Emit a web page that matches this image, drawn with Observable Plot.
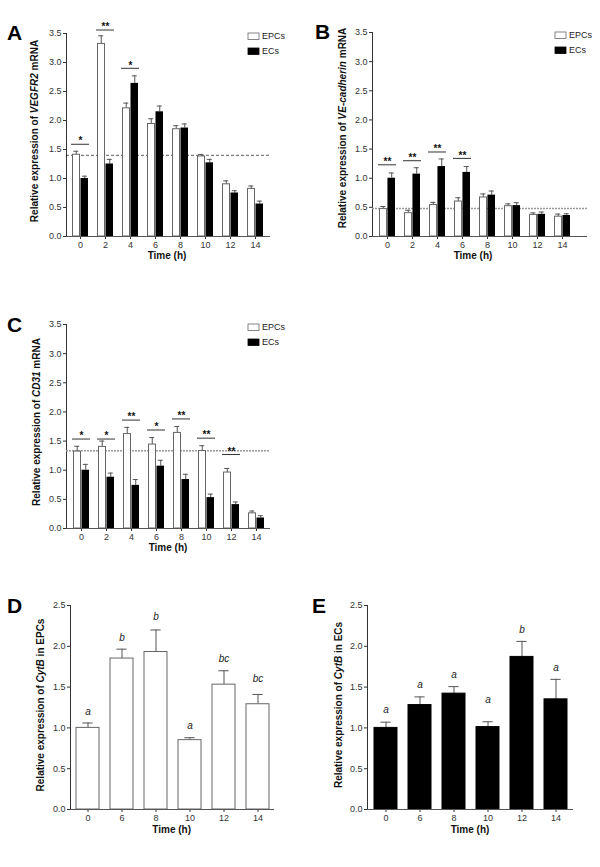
<!DOCTYPE html>
<html><head><meta charset="utf-8">
<script src="https://cdn.jsdelivr.net/npm/d3@7"></script>
<script src="https://cdn.jsdelivr.net/npm/@observablehq/plot@0.6"></script>
<style>
body{margin:0;background:#fff;}
#fig{position:relative;width:600px;height:867px;background:#fff;font-family:"Liberation Sans",Arial,sans-serif;}
#fig svg{position:absolute;background:none;}
</style></head><body><div id="fig"></div>
<script>
// ---------- data ----------
const times = [0, 2, 4, 6, 8, 10, 12, 14];
const series = ["EPCs", "ECs"];

// A: VEGFR2
const vegfrEPC    = [1.41, 3.32, 2.21, 1.94, 1.85, 1.38, 0.90, 0.82];
const vegfrEPCerr = [0.06, 0.14, 0.09, 0.09, 0.06, 0.035, 0.06, 0.05];
const vegfrEC     = [1.00, 1.25, 2.64, 2.15, 1.87, 1.27, 0.75, 0.56];
const vegfrECerr  = [0.04, 0.08, 0.13, 0.10, 0.07, 0.06, 0.04, 0.05];
const vegfrSigT   = [0, 2, 4];
const vegfrSigY   = [1.59, 3.56, 2.90];
const vegfrSigL   = ["*", "**", "*"];
const vegfrRef    = 1.40;

// B: VE-cadherin
const vecadEPC    = [0.47, 0.40, 0.54, 0.60, 0.67, 0.52, 0.37, 0.34];
const vecadEPCerr = [0.045, 0.05, 0.046, 0.065, 0.06, 0.04, 0.035, 0.045];
const vecadEC     = [1.00, 1.07, 1.20, 1.10, 0.71, 0.53, 0.38, 0.36];
const vecadECerr  = [0.09, 0.11, 0.13, 0.10, 0.07, 0.05, 0.04, 0.03];
const vecadSigT   = [0, 2, 4, 6];
const vecadSigY   = [1.23, 1.30, 1.45, 1.34];
const vecadSigL   = ["**", "**", "**", "**"];
const vecadRef    = 0.48;

// C: CD31
const cd31EPC    = [1.32, 1.40, 1.62, 1.44, 1.64, 1.33, 0.96, 0.26];
const cd31EPCerr = [0.09, 0.10, 0.115, 0.12, 0.11, 0.09, 0.07, 0.04];
const cd31EC     = [1.00, 0.88, 0.74, 1.07, 0.84, 0.53, 0.41, 0.18];
const cd31ECerr  = [0.10, 0.07, 0.10, 0.10, 0.09, 0.06, 0.045, 0.04];
const cd31SigT   = [0, 2, 4, 6, 8, 10, 12];
const cd31SigY   = [1.535, 1.535, 1.86, 1.69, 1.88, 1.55, 1.27];
const cd31SigL   = ["*", "*", "**", "*", "**", "**", "**"];
const cd31Ref    = 1.334;

const yTicksABC = [0, 0.5, 1.0, 1.5, 2.0, 2.5, 3.0, 3.5];

// D / E: CytB
const cytTimes   = [0, 6, 8, 10, 12, 14];
const cytEPC     = [1.00, 1.85, 1.93, 0.85, 1.53, 1.29];
const cytEPCerr  = [0.06, 0.115, 0.27, 0.03, 0.17, 0.12];
const cytEPCLet  = ["a", "b", "b", "a", "bc", "bc"];
const cytEPCLetY = [1.20, 2.11, 2.36, 1.02, 1.85, 1.60];
const cytEC      = [1.00, 1.28, 1.42, 1.01, 1.87, 1.35];
const cytECerr   = [0.07, 0.10, 0.086, 0.065, 0.19, 0.245];
const cytECLet   = ["a", "a", "a", "a", "b", "a"];
const cytECLetY  = [1.22, 1.53, 1.65, 1.34, 2.20, 1.74];
const yTicksDE = [0, 0.5, 1.0, 1.5, 2.0, 2.5];

// ---------- helpers ----------
const fig = document.getElementById("fig");
const FONT = '"Liberation Sans", Arial, sans-serif';
const AX = "#555";
const rows = (t, v, e) => t.map((d, i) => ({time: d, value: v[i], err: e[i]}));

function decorate(svg, o) {
  const s = d3.select(svg);
  s.append("text").attr("x", o.letter[1]).attr("y", o.letter[2])
    .attr("text-anchor", "start")
    .attr("font-size", 21).attr("font-weight", "bold").attr("fill", "#000")
    .attr("font-family", FONT).text(o.letter[0]);
  const yt = s.append("text")
    .attr("transform", `translate(${o.ytitle.x},${o.ytitle.y}) rotate(-90)`)
    .attr("text-anchor", "middle").attr("dominant-baseline", "middle")
    .attr("font-size", 10).attr("font-weight", "bold").attr("fill", "#111")
    .attr("font-family", FONT);
  o.ytitle.parts.forEach(p => yt.append("tspan").attr("font-style", p[1] ? "italic" : "normal").text(p[0]));
  s.append("text").attr("x", o.xtitle.x).attr("y", o.xtitle.y)
    .attr("text-anchor", "middle").attr("dominant-baseline", "middle")
    .attr("font-size", 10).attr("font-weight", "bold").attr("fill", "#111")
    .attr("font-family", FONT).text("Time (h)");
  if (o.legend) {
    const [lx, ly] = o.legend;
    series.forEach((name, i) => {
      s.append("rect").attr("x", lx).attr("y", ly + i * 15).attr("width", 11).attr("height", 6.5)
        .attr("fill", i ? "#000" : "#fff").attr("stroke", i ? "#000" : "#666").attr("stroke-width", 0.8);
      s.append("text").attr("x", lx + 14).attr("y", ly + 3.5 + i * 15)
        .attr("text-anchor", "start")
        .attr("dominant-baseline", "middle").attr("font-size", 9).attr("fill", "#222")
        .attr("font-family", FONT).text(name);
    });
  }
}

function grouped(cfg) {
  const epc = rows(times, cfg.epc, cfg.epcErr);
  const ec = rows(times, cfg.ec, cfg.ecErr);
  const sig = cfg.sigT.map((t, i) => ({time: t, y: cfg.sigY[i], label: cfg.sigL[i]}));
  const pInner = 0.346;
  const step = (cfg.xr[1] - cfg.xr[0]) / (times.length - pInner);
  const bw = step * (1 - pInner);
  const cap = 3;
  const svg = Plot.plot({
    width: 300, height: cfg.h,
    marginLeft: cfg.m[0], marginRight: cfg.m[1], marginTop: cfg.m[2], marginBottom: cfg.m[3],
    style: {fontFamily: FONT, fontSize: "9px", color: "#333", background: "transparent"},
    x: {domain: times, range: cfg.xr, paddingInner: pInner, paddingOuter: 0, tickSize: 3, tickPadding: 2, label: null},
    y: {domain: [0, 3.5], ticks: yTicksABC, tickFormat: ".1f", tickSize: 3, tickPadding: 2, label: null, line: true},
    marks: [
      Plot.ruleY([cfg.ref], {stroke: cfg.refColor, strokeWidth: cfg.refW, strokeDasharray: cfg.refDash}),
      Plot.ruleX(epc, {x: "time", y1: "value", y2: d => d.value + d.err, dx: -bw / 4, stroke: AX}),
      Plot.tickY(epc, {x: "time", y: d => d.value + d.err, insetLeft: bw / 4 - cap, insetRight: bw * 3 / 4 - cap, stroke: AX}),
      Plot.ruleX(ec, {x: "time", y1: "value", y2: d => d.value + d.err, dx: bw / 4, stroke: AX}),
      Plot.tickY(ec, {x: "time", y: d => d.value + d.err, insetLeft: bw * 3 / 4 - cap, insetRight: bw / 4 - cap, stroke: AX}),
      Plot.barY(epc, {x: "time", y: "value", fill: "#fff", stroke: "#666", strokeWidth: 1, insetRight: bw / 2, insetLeft: 0.5}),
      Plot.barY(ec, {x: "time", y: "value", fill: "#000", insetLeft: bw / 2}),
      Plot.tickY(sig, {x: "time", y: "y", stroke: "#333", insetLeft: -1, insetRight: -1}),
      Plot.text(sig, {x: "time", y: "y", text: "label", dy: -3, fontSize: 10, fontWeight: "bold", fill: "#111"}),
      Plot.ruleY([0], {stroke: AX})
    ]
  });
  svg.style.left = cfg.pos[0] + "px";
  svg.style.top = cfg.pos[1] + "px";
  fig.appendChild(svg);
  decorate(svg, cfg);
}

function single(cfg) {
  const data = rows(cytTimes, cfg.v, cfg.e);
  const lets = cytTimes.map((t, i) => ({time: t, y: cfg.letY[i], label: cfg.lets[i]}));
  const pInner = 0.338;
  const step = (cfg.xr[1] - cfg.xr[0]) / (cytTimes.length - pInner);
  const bw = step * (1 - pInner);
  const cap = 5;
  const svg = Plot.plot({
    width: 300, height: cfg.h,
    marginLeft: cfg.m[0], marginRight: cfg.m[1], marginTop: cfg.m[2], marginBottom: cfg.m[3],
    style: {fontFamily: FONT, fontSize: "9px", color: "#333", background: "transparent"},
    x: {domain: cytTimes, range: cfg.xr, paddingInner: pInner, paddingOuter: 0, tickSize: 3, tickPadding: 2, label: null},
    y: {domain: [0, 2.5], ticks: yTicksDE, tickFormat: ".1f", tickSize: 3, tickPadding: 2, label: null, line: true},
    marks: [
      Plot.ruleX(data, {x: "time", y1: "value", y2: d => d.value + d.err, stroke: AX}),
      Plot.tickY(data, {x: "time", y: d => d.value + d.err, insetLeft: bw / 2 - cap, insetRight: bw / 2 - cap, stroke: AX}),
      Plot.barY(data, {x: "time", y: "value", fill: cfg.fill, stroke: cfg.stroke, strokeWidth: 1}),
      Plot.text(lets, {x: "time", y: "y", text: "label", fontSize: 10, fontStyle: "italic", fill: "#222"}),
      Plot.ruleY([0], {stroke: AX})
    ]
  });
  svg.style.left = cfg.pos[0] + "px";
  svg.style.top = cfg.pos[1] + "px";
  fig.appendChild(svg);
  decorate(svg, cfg);
}

// ---------- panels ----------
grouped({
  pos: [0, 0], h: 280, m: [66, 30, 33, 44], xr: [68.5, 267.5],
  epc: vegfrEPC, epcErr: vegfrEPCerr, ec: vegfrEC, ecErr: vegfrECerr,
  sigT: vegfrSigT, sigY: vegfrSigY, sigL: vegfrSigL,
  ref: vegfrRef, refColor: "#333", refW: 0.8, refDash: "3,2",
  letter: ["A", 7, 40],
  ytitle: {x: 35, y: 131, parts: [["Relative expression of ", 0], ["VEGFR2", 1], [" mRNA", 0]]},
  xtitle: {x: 167, y: 256}, legend: [248, 33]
});
grouped({
  pos: [300, 0], h: 280, m: [72, 13, 32, 44], xr: [75.8, 273.5],
  epc: vecadEPC, epcErr: vecadEPCerr, ec: vecadEC, ecErr: vecadECerr,
  sigT: vecadSigT, sigY: vecadSigY, sigL: vecadSigL,
  ref: vecadRef, refColor: "#999", refW: 1.5, refDash: "2,1",
  letter: ["B", 15, 39],
  ytitle: {x: 42.5, y: 128, parts: [["Relative expression of ", 0], ["VE-cadherin", 1], [" mRNA", 0]]},
  xtitle: {x: 173, y: 256.7}, legend: [255, 32]
});
grouped({
  pos: [0, 300], h: 280, m: [66, 30, 24, 52], xr: [68.8, 267.8],
  epc: cd31EPC, epcErr: cd31EPCerr, ec: cd31EC, ecErr: cd31ECerr,
  sigT: cd31SigT, sigY: cd31SigY, sigL: cd31SigL,
  ref: cd31Ref, refColor: "#999", refW: 1.5, refDash: "2,1",
  letter: ["C", 7, 32],
  ytitle: {x: 37, y: 122, parts: [["Relative expression of ", 0], ["CD31", 1], [" mRNA", 0]]},
  xtitle: {x: 168, y: 248}, legend: [248, 24]
});
single({
  pos: [0, 580], h: 287, m: [70, 26, 25, 58], xr: [74.65, 269.05],
  v: cytEPC, e: cytEPCerr, lets: cytEPCLet, letY: cytEPCLetY, fill: "#fff", stroke: "#666",
  letter: ["D", 7, 33],
  ytitle: {x: 41, y: 125, parts: [["Relative expression of ", 0], ["CytB", 1], [" in EPCs", 0]]},
  xtitle: {x: 171.7, y: 250}
});
single({
  pos: [300, 580], h: 287, m: [67, 27, 25, 58], xr: [72.95, 267.35],
  v: cytEC, e: cytECerr, lets: cytECLet, letY: cytECLetY, fill: "#000", stroke: "#000",
  letter: ["E", 12, 33],
  ytitle: {x: 39, y: 125, parts: [["Relative expression of ", 0], ["CytB", 1], [" in ECs", 0]]},
  xtitle: {x: 170, y: 250.5}
});
</script></body></html>
